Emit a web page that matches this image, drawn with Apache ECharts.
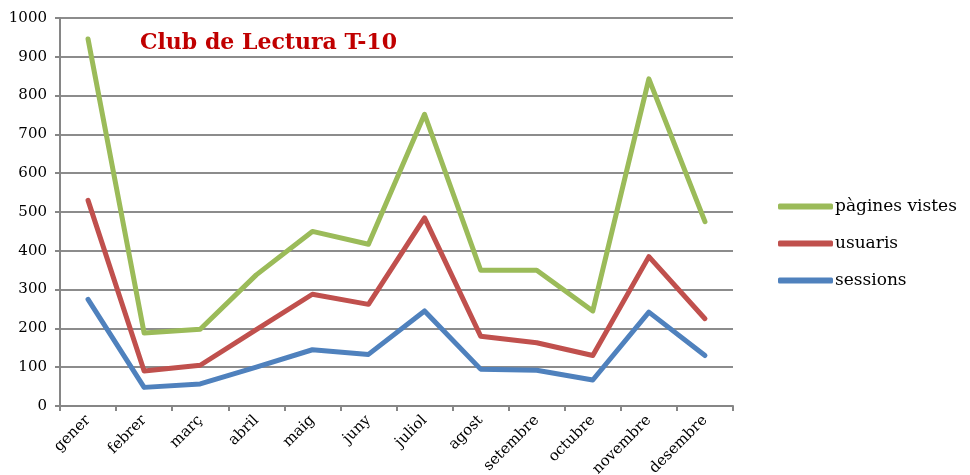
<!DOCTYPE html>
<html><head><meta charset="utf-8">
<script src="https://cdn.jsdelivr.net/npm/echarts@6/dist/echarts.min.js"></script>
<style>html,body{margin:0;padding:0;background:#fff}#c{width:970px;height:475px}</style>
</head><body><div id="c"></div>
<script>
var months = ['gener','febrer','març','abril','maig','juny','juliol','agost','setembre','octubre','novembre','desembre'];
var pagines = [946, 188, 198, 338, 450, 417, 752, 350, 350, 245, 843, 475];
var usuaris = [530, 90, 105, 197, 288, 262, 485, 180, 163, 130, 385, 225];
var sessions = [275, 48, 57, 100, 145, 133, 245, 95, 92, 67, 242, 130];
var yTicks = [0, 100, 200, 300, 400, 500, 600, 700, 800, 900, 1000];

var FONT = 'DejaVu Serif';
var chart = echarts.init(document.getElementById('c'), null, {renderer: 'canvas'});
function mk(name, data, color) {
  return {name: name, type: 'line', data: data, symbol: 'none', smooth: false,
    lineStyle: {color: color, width: 5, cap: 'round', join: 'round'}, itemStyle: {color: color}};
}
chart.setOption({
  animation: false,
  textStyle: {fontFamily: FONT},
  title: {text: 'Club de Lectura T-10', left: 135, top: 27,
    textStyle: {fontFamily: FONT, fontWeight: 'bold', fontSize: 22, color: '#C00000'}},
  legend: {orient: 'vertical', left: 773, top: 193, itemGap: 20, itemWidth: 55, itemHeight: 6,
    icon: 'roundRect',
    textStyle: {fontFamily: FONT, fontSize: 17, color: '#000', padding: [0, 0, 0, -3]},
    data: ['pàgines vistes', 'usuaris', 'sessions']},
  grid: {left: 60, right: 237, top: 18, bottom: 69, containLabel: false, outerBoundsMode: 'none'},
  xAxis: {type: 'category', data: months, boundaryGap: true,
    axisLine: {lineStyle: {color: '#868686', width: 2}},
    axisTick: {show: true, alignWithLabel: false, length: 5, lineStyle: {color: '#868686', width: 2}},
    axisLabel: {rotate: 45, fontFamily: FONT, fontSize: 15, color: '#000', margin: 12, interval: 0}},
  yAxis: {type: 'value', min: yTicks[0], max: yTicks[yTicks.length - 1], interval: 100,
    axisLine: {show: true, lineStyle: {color: '#868686', width: 2}},
    axisTick: {show: true, length: 5, lineStyle: {color: '#868686', width: 2}},
    splitLine: {lineStyle: {color: '#8c8c8c', width: 2}},
    axisLabel: {fontFamily: FONT, fontSize: 15, color: '#000', margin: 13,
      formatter: function (v) { return String(v); }}},
  series: [mk('pàgines vistes', pagines, '#9BBB59'), mk('usuaris', usuaris, '#C0504D'), mk('sessions', sessions, '#4F81BD')]
});
</script></body></html>
